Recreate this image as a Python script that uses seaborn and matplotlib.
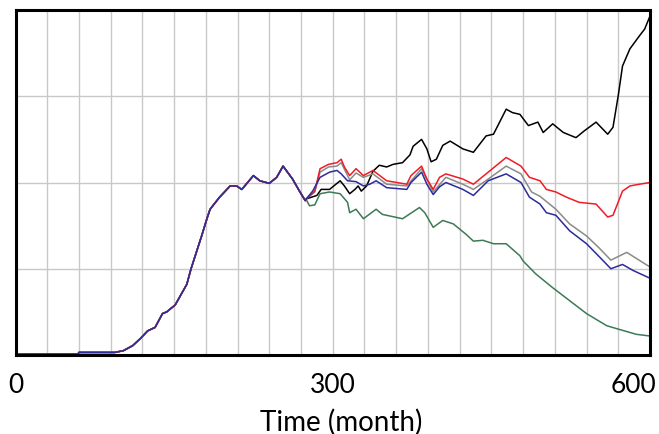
import numpy as np
import pandas as pd
import seaborn as sns
import matplotlib.pyplot as plt
from matplotlib.transforms import ScaledTranslation

# shared run before the scenarios branch (month, value)
t_common = [0, 59, 60, 94, 102, 111, 118, 125, 132, 139, 143, 151, 162, 166, 171, 176, 181,
            184, 193, 203, 209, 214, 225, 231, 240, 247, 253, 262, 269, 274]
y_common = [0.01, 0.01, 0.03, 0.03, 0.05, 0.11, 0.19, 0.28, 0.32, 0.48, 0.50, 0.58, 0.82, 1.00,
            1.19, 1.38, 1.58, 1.69, 1.83, 1.96, 1.96, 1.92, 2.08, 2.02, 1.99, 2.06, 2.19, 2.04,
            1.89, 1.79]

t_black = [275, 285, 289, 297, 307, 311, 316, 321, 324, 327, 332, 338, 344, 351, 357, 366, 373,
           376, 384, 389, 393, 398, 404, 411, 423, 433, 445, 452, 464, 470, 477, 485, 494, 499,
           508, 518, 530, 538, 549, 560, 565, 570, 574, 581, 590, 595, 600]
y_black = [1.81, 1.85, 1.92, 1.92, 2.02, 1.96, 1.87, 1.92, 1.96, 1.90, 1.96, 2.13, 2.20, 2.18,
           2.21, 2.23, 2.32, 2.42, 2.50, 2.39, 2.24, 2.27, 2.43, 2.48, 2.39, 2.35, 2.54, 2.56,
           2.85, 2.81, 2.79, 2.66, 2.70, 2.58, 2.68, 2.58, 2.52, 2.60, 2.70, 2.56, 2.64, 3.01,
           3.35, 3.55, 3.70, 3.78, 3.93]

t_red = [275, 283, 288, 296, 304, 308, 311, 316, 322, 329, 338, 351, 370, 374, 384, 389, 395,
         401, 407, 423, 433, 447, 464, 478, 486, 496, 502, 511, 521, 533, 549, 560, 565, 574,
         581, 590, 600]
y_red = [1.81, 1.90, 2.16, 2.21, 2.23, 2.27, 2.18, 2.08, 2.16, 2.08, 2.14, 2.02, 1.98, 2.08,
         2.19, 2.04, 1.92, 2.06, 2.10, 2.04, 1.98, 2.12, 2.29, 2.19, 2.06, 2.02, 1.92, 1.89,
         1.83, 1.77, 1.75, 1.60, 1.62, 1.90, 1.96, 1.98, 2.00]

t_gray = [275, 283, 288, 296, 304, 308, 316, 322, 329, 338, 351, 370, 384, 395, 407, 423, 433,
          447, 464, 478, 488, 496, 505, 511, 524, 540, 552, 563, 578, 600]
y_gray = [1.81, 1.89, 2.12, 2.18, 2.19, 2.23, 2.03, 2.11, 2.06, 2.10, 1.98, 1.96, 2.16, 1.89,
          2.06, 1.98, 1.92, 2.04, 2.19, 2.10, 1.89, 1.84, 1.75, 1.69, 1.52, 1.38, 1.24, 1.10,
          1.19, 1.02]

t_blue = [275, 281, 288, 297, 304, 308, 314, 322, 329, 335, 341, 351, 370, 374, 384, 389, 395,
          401, 407, 423, 433, 447, 464, 478, 486, 496, 502, 511, 524, 540, 552, 563, 574, 584,
          600]
y_blue = [1.81, 1.90, 2.06, 2.12, 2.14, 2.10, 2.02, 2.01, 1.96, 1.98, 2.02, 1.94, 1.92, 2.00,
          2.12, 1.98, 1.86, 1.95, 2.00, 1.92, 1.85, 2.02, 2.10, 2.00, 1.83, 1.75, 1.65, 1.62,
          1.44, 1.29, 1.14, 1.00, 1.05, 0.98, 0.89]

t_green = [275, 278, 283, 288, 297, 307, 314, 316, 322, 329, 341, 347, 366, 382, 387, 395, 404,
           414, 426, 433, 442, 452, 464, 477, 480, 492, 508, 524, 540, 559, 570, 587, 600]
y_green = [1.80, 1.73, 1.74, 1.87, 1.89, 1.87, 1.77, 1.65, 1.69, 1.58, 1.69, 1.63, 1.58, 1.71,
           1.65, 1.48, 1.56, 1.52, 1.40, 1.32, 1.33, 1.29, 1.29, 1.15, 1.09, 0.94, 0.78, 0.63,
           0.48, 0.34, 0.30, 0.24, 0.22]

series = {
    "black": (t_black, y_black),
    "green": (t_green, y_green),
    "gray": (t_gray, y_gray),
    "red": (t_red, y_red),
    "blue": (t_blue, y_blue),
}
colors = {"black": "#000000", "green": "#3d7a55", "gray": "#8a8a8a",
          "red": "#f01c24", "blue": "#2b2b9c"}

rows = []
for name, (t, y) in series.items():
    for tt, yy in zip(t_common + t, y_common + y):
        rows.append((name, tt, yy))
df = pd.DataFrame(rows, columns=["run", "month", "value"])

sns.set_style("white")
plt.rcParams["font.family"] = ["Lato", "DejaVu Sans"]

fig = plt.figure(figsize=(6.59, 4.35), dpi=100)
ax = fig.add_axes([15.5 / 659, 1 - 356 / 435, (650 - 15.5) / 659, (356 - 11) / 435])

sns.lineplot(data=df, x="month", y="value", hue="run", palette=colors, estimator=None,
             sort=False, linewidth=1.1, legend=False, ax=ax)

ax.set_xlim(0, 600)
ax.set_ylim(0, 4)
ax.set_xticks(np.arange(0, 601, 30), minor=True)
ax.set_yticks(np.arange(0, 5, 1))
ax.set_xticks([0, 300, 600])
ax.grid(True, which="both", color="#c8c8c8", linewidth=1.0)
ax.set_axisbelow(True)

ax.set_xlabel("")
ax.set_ylabel("")
ax.set_yticklabels([])
ax.set_xticklabels(["0", "300", "600"], fontsize=19, color="black")
ax.tick_params(axis="both", which="both", length=0)
ax.tick_params(axis="x", pad=12)
last = ax.get_xticklabels()[2]
last.set_horizontalalignment("right")
last.set_transform(last.get_transform() + ScaledTranslation(6 / 100, 0, fig.dpi_scale_trans))
for s in ax.spines.values():
    s.set_visible(True)
    s.set_color("black")
    s.set_linewidth(2.2)

fig.text(341 / 659, 1 - 431 / 435, "Time (month)", fontsize=20, ha="center", va="baseline",
         color="black")

fig.savefig("out.png", dpi=100)
